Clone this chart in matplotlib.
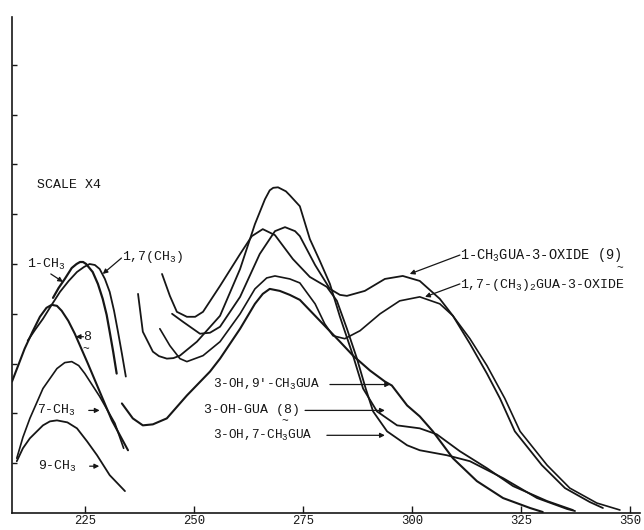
import matplotlib
matplotlib.use('Agg')
import matplotlib.pyplot as plt

plt.rcParams['font.family'] = ['Liberation Mono', 'DejaVu Sans Mono']
plt.rcParams['mathtext.fontset'] = 'custom'
plt.rcParams['mathtext.rm'] = 'Liberation Mono'
plt.rcParams['mathtext.default'] = 'regular'

INK = '#161616'

# wavelength (nm) / absorbance (arbitrary tick units)
# short-wavelength group (scale x4)
ch3_1_nm = [217.7, 219.0, 220.4, 222.0, 223.1, 223.9, 224.6, 225.3, 226.8, 228.0, 229.1, 230.0, 230.7, 231.5, 232.3]
ch3_1_a = [4.32, 4.52, 4.70, 4.92, 5.00, 5.04, 5.04, 5.00, 4.84, 4.60, 4.30, 3.98, 3.64, 3.24, 2.80]

ch3_17_nm = [211.9, 213.6, 215.4, 217.4, 219.3, 221.3, 223.2, 224.8, 226.1, 227.3, 228.4, 229.6, 230.7, 231.7, 232.6, 233.5, 234.4]
ch3_17_a = [3.46, 3.68, 3.90, 4.18, 4.44, 4.66, 4.84, 4.94, 5.00, 4.98, 4.90, 4.70, 4.44, 4.06, 3.64, 3.20, 2.74]

oh_gua_s_nm = [208.3, 209.8, 211.2, 213.0, 214.7, 216.2, 217.4, 218.6, 219.7, 221.2, 222.7, 225.7, 228.4, 231.2, 234.9]
oh_gua_s_a = [2.64, 2.98, 3.30, 3.64, 3.94, 4.12, 4.18, 4.16, 4.06, 3.86, 3.60, 3.00, 2.44, 1.86, 1.26]

ch3_7_nm = [209.4, 210.8, 212.4, 215.4, 218.6, 220.4, 222.0, 223.6, 225.0, 228.4, 231.9, 233.9]
ch3_7_a = [1.10, 1.52, 1.90, 2.50, 2.90, 3.02, 3.04, 2.96, 2.80, 2.34, 1.80, 1.30]

ch3_9_nm = [209.4, 210.8, 212.4, 215.4, 217.0, 218.6, 221.0, 223.2, 225.5, 227.8, 230.7, 234.2]
ch3_9_a = [1.04, 1.30, 1.50, 1.76, 1.84, 1.86, 1.82, 1.70, 1.44, 1.16, 0.76, 0.44]

# long-wavelength group
oh_gua_nm = [237.2, 238.3, 240.6, 242.0, 243.8, 245.3, 246.8, 250.7, 256.0, 260.6, 264.0, 266.3, 267.4,
             268.2, 269.3, 271.1, 272.0, 274.3, 276.6, 278.9, 281.2, 283.5, 286.5, 288.8, 292.0,
             296.6, 301.8, 305.7, 311.0, 317.2, 323.2, 331.0, 336.9]
oh_gua_a = [4.40, 3.64, 3.24, 3.15, 3.10, 3.11, 3.16, 3.44, 3.96, 4.90, 5.80, 6.30, 6.48,
            6.53, 6.54, 6.46, 6.38, 6.16, 5.50, 5.06, 4.60, 3.94, 3.16, 2.50, 2.04,
            1.76, 1.70, 1.58, 1.24, 0.90, 0.54, 0.24, 0.06]

oh_7ch3_nm = [242.7, 244.5, 246.1, 248.4, 250.3, 252.1, 256.0, 260.6, 263.3, 265.8, 268.6, 272.7,
              276.6, 280.5, 282.8, 285.1, 287.4, 289.4, 291.1, 294.3, 298.9, 301.8, 308.0,
              313.3, 320.9, 328.7, 335.6, 337.4]
oh_7ch3_a = [4.80, 4.36, 4.04, 3.94, 3.94, 4.04, 4.56, 5.20, 5.56, 5.70, 5.58, 5.10,
             4.74, 4.54, 4.26, 3.70, 3.10, 2.50, 2.04, 1.64, 1.36, 1.26, 1.16,
             1.04, 0.70, 0.30, 0.08, 0.04]

oh_9ch3_nm = [233.5, 236.0, 238.3, 240.6, 243.8, 248.4, 253.7, 256.0, 260.6, 264.0, 265.8,
              267.4, 269.7, 272.0, 274.3, 278.9, 283.5, 286.5, 290.4, 293.8, 295.4, 298.9,
              301.8, 304.8, 309.4, 314.9, 320.9, 327.1, 330.0]
oh_9ch3_a = [2.20, 1.90, 1.76, 1.78, 1.90, 2.36, 2.84, 3.10, 3.70, 4.20, 4.40,
             4.50, 4.46, 4.38, 4.28, 3.86, 3.44, 3.16, 2.86, 2.64, 2.56, 2.16,
             1.94, 1.64, 1.10, 0.64, 0.30, 0.10, 0.02]

oxide_9_nm = [245.0, 247.5, 251.4, 253.7, 256.0, 260.6, 265.1, 268.6, 270.9, 273.2, 274.3,
              277.8, 281.2, 283.5, 285.1, 289.2, 293.8, 297.9, 301.8, 306.4, 309.4, 313.3,
              317.2, 320.2, 323.6, 329.8, 335.1, 340.8, 343.8]
oxide_9_a = [4.00, 3.84, 3.60, 3.62, 3.74, 4.34, 5.20, 5.66, 5.74, 5.66, 5.56,
             4.98, 4.50, 4.38, 4.36, 4.46, 4.70, 4.76, 4.66, 4.30, 3.96, 3.40,
             2.80, 2.30, 1.64, 0.96, 0.50, 0.22, 0.10]

oxide_17_nm = [242.2, 244.5, 246.8, 248.4, 252.1, 256.0, 260.6, 264.0, 266.7, 268.6, 272.0,
               274.3, 277.8, 280.0, 281.9, 284.6, 288.1, 292.7, 297.2, 301.8, 306.4, 309.4,
               313.3, 317.2, 321.3, 324.8, 331.0, 336.2, 342.4, 347.7]
oxide_17_a = [3.70, 3.36, 3.10, 3.04, 3.16, 3.44, 4.00, 4.50, 4.72, 4.76, 4.70,
              4.62, 4.20, 3.80, 3.56, 3.50, 3.66, 4.00, 4.26, 4.34, 4.20, 3.96,
              3.50, 2.96, 2.30, 1.64, 0.96, 0.50, 0.20, 0.06]

x_ticks = [225, 250, 275, 300, 325, 350]
y_ticks = [1, 2, 3, 4, 5, 6, 7, 8, 9]

fig = plt.figure(figsize=(6.44, 5.30), dpi=100)
ax = fig.add_axes([12 / 644, 17 / 530, 628 / 644, 496 / 530])

curves = [
    (ch3_1_nm, ch3_1_a, 1.6),
    (ch3_17_nm, ch3_17_a, 1.3),
    (oh_gua_s_nm, oh_gua_s_a, 1.5),
    (ch3_7_nm, ch3_7_a, 1.2),
    (ch3_9_nm, ch3_9_a, 1.3),
    (oh_gua_nm, oh_gua_a, 1.3),
    (oh_7ch3_nm, oh_7ch3_a, 1.3),
    (oh_9ch3_nm, oh_9ch3_a, 1.5),
    (oxide_9_nm, oxide_9_a, 1.3),
    (oxide_17_nm, oxide_17_a, 1.2),
]
for xs, ys, w in curves:
    ax.plot(xs, ys, color=INK, lw=w, solid_capstyle='round', solid_joinstyle='round')

ax.set_xlim(208.3, 352.3)
ax.set_ylim(0, 9.96)
ax.set_xticks(x_ticks)
ax.set_xticklabels([str(t) for t in x_ticks])
ax.set_yticks(y_ticks)
ax.set_yticklabels([])
ax.tick_params(axis='x', direction='in', length=5, width=1, pad=1.5, labelsize=8.8, colors=INK)
ax.tick_params(axis='y', direction='in', length=3.5, width=1, colors=INK)
for s in ['top', 'right']:
    ax.spines[s].set_visible(False)
for s in ['left', 'bottom']:
    ax.spines[s].set_color(INK)
    ax.spines[s].set_linewidth(1.2)

fs = 9.5
arrow = dict(arrowstyle='-|>', color=INK, lw=0.9, mutation_scale=7, shrinkA=0, shrinkB=0)

def label(x, y, s, size=fs):
    ax.text(x, y, s, fontsize=size, color=INK, ha='left', va='center')

def point(tail, tip):
    ax.annotate('', xy=tip, xytext=tail, arrowprops=arrow)

label(214.0, 6.58, 'SCALE X4')

label(211.7, 5.0, '1-CH$_3$')
point((217.2, 4.80), (220.0, 4.64))

label(233.5, 5.14, '1,7(CH$_3$)')
point((233.4, 5.12), (229.1, 4.80))

label(224.6, 3.54, '8')
ax.text(225.2, 3.30, '~', fontsize=8, color=INK, ha='center', va='center')
point((224.7, 3.54), (222.9, 3.54))

label(214.0, 2.06, '7-CH$_3$')
point((225.9, 2.06), (228.4, 2.06))

label(214.2, 0.94, '9-CH$_3$')
point((226.1, 0.94), (228.3, 0.94))

label(311.0, 5.18, '1-CH$_3$GUA-3-OXIDE (9)', 9.8)
ax.text(347.6, 4.92, '~', fontsize=8, color=INK, ha='center', va='center')
point((311.0, 5.18), (299.5, 4.80))

label(311.0, 4.58, '1,7-(CH$_3$)$_2$GUA-3-OXIDE')
point((311.0, 4.60), (303.0, 4.34))

label(254.4, 2.58, "3-OH,9'-CH$_3$GUA", 9.2)
point((281.2, 2.58), (295.0, 2.58))

label(252.3, 2.06, '3-OH-GUA (8)')
ax.text(270.9, 1.84, '~', fontsize=8, color=INK, ha='center', va='center')
point((275.5, 2.06), (293.8, 2.06))

label(254.4, 1.56, '3-OH,7-CH$_3$GUA', 9.2)
point((280.5, 1.56), (293.8, 1.56))

fig.savefig('out.png', dpi=100)
